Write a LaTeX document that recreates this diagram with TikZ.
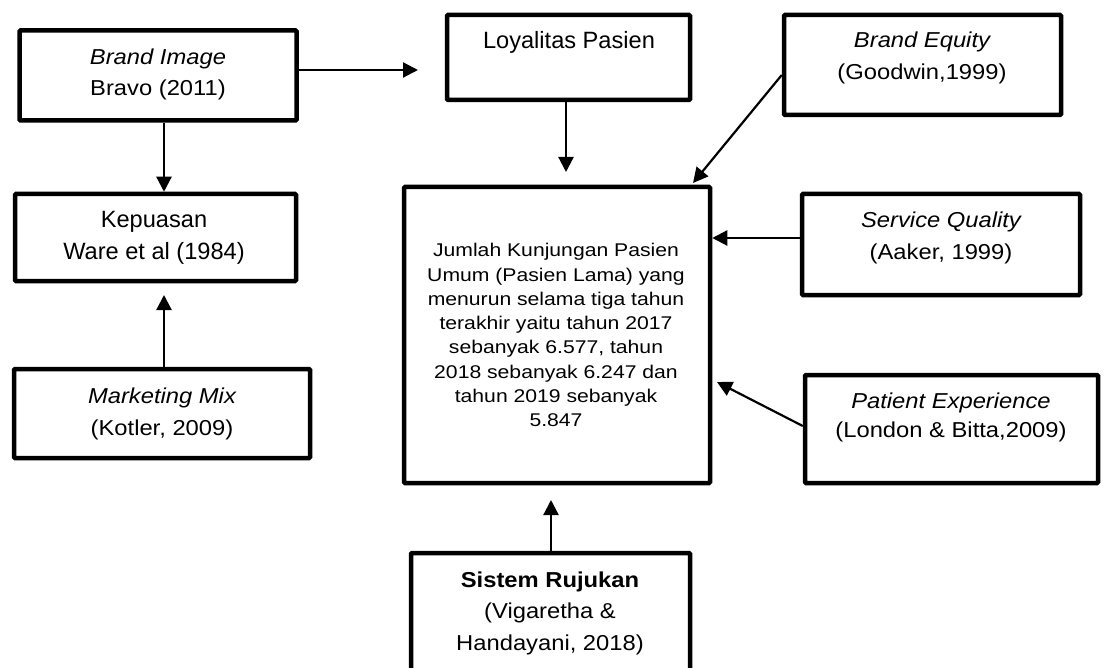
\documentclass[tikz,border=0pt]{standalone}
\usepackage{fontspec}
\setmainfont{Liberation Sans}
\newfontfamily\fontN{Liberation Sans}
\newfontfamily\fontM[FakeStretch=1.1]{Liberation Sans}
\newfontfamily\fontW[FakeStretch=1.15]{Liberation Sans}
\usetikzlibrary{arrows.meta}
\tikzset{
  box/.style={draw=black, line width=4.5pt, rounded corners=1pt, fill=white, inner sep=0pt},
  txtN/.style={anchor=base, inner sep=0pt, font=\fontN\fontsize{23.6}{31}\selectfont},
  txtM/.style={anchor=base, inner sep=0pt, font=\fontM\fontsize{21.6}{31}\selectfont},
  mtxt/.style={anchor=base, inner sep=0pt, font=\fontW\fontsize{18.4}{24}\selectfont},
  arr/.style={line width=2.2pt, -{Triangle[length=15pt,width=15pt]}}
}
\begin{document}
\begin{tikzpicture}[x=1pt,y=-1pt]
\useasboundingbox (0,0) rectangle (1105,668);
\fill[white] (0,0) rectangle (1105,668);
\clip (0,0) rectangle (1105,668);

% boxes
\node[box, minimum width=277pt, minimum height=90pt] (bi) at (158,75.5) {};
\node[box, minimum width=281pt, minimum height=87pt] (kep) at (155.5,237.5) {};
\node[box, minimum width=296pt, minimum height=89pt] (mm) at (162,413.5) {};
\node[box, minimum width=243pt, minimum height=85pt] (loy) at (568.5,57.5) {};
\node[box, minimum width=306pt, minimum height=296pt] (main) at (557,335) {};
\node[box, minimum width=277pt, minimum height=100pt] (be) at (922.5,65) {};
\node[box, minimum width=278pt, minimum height=101pt] (sq) at (941,244.5) {};
\node[box, minimum width=293pt, minimum height=108pt] (pe) at (951.5,429) {};
\node[box, minimum width=279pt, minimum height=125pt] (sis) at (550.5,615.5) {};

% texts
\node[txtM] (bi1) at (158,65) {\itshape Brand Image};
\node[txtM] (bi2) at (158,96) {Bravo (2011)};
\node[txtN] (loy1) at (569,49) {Loyalitas Pasien};
\node[txtN] (kep1) at (154,228) {Kepuasan};
\node[txtN] (kep2) at (154,260) {Ware et al (1984)};
\node[txtM] (mm1) at (162,403) {\itshape Marketing Mix};
\node[txtM] (mm2) at (162,435) {(Kotler, 2009)};
\node[txtM] (be1) at (922,48) {\itshape Brand Equity};
\node[txtM] (be2) at (922,80) {(Goodwin,1999)};
\node[txtM] (sq1) at (941,228) {\itshape Service Quality};
\node[txtM] (sq2) at (941,260) {(Aaker, 1999)};
\node[txtM] (pe1) at (951,408) {\itshape Patient Experience};
\node[txtM] (pe2) at (951,437) {(London \& Bitta,2009)};
\node[txtM] (sis1) at (550,587) {\bfseries Sistem Rujukan};
\node[txtM] (sis2) at (550,618) {(Vigaretha \&};
\node[txtM] (sis3) at (550,650) {Handayani, 2018)};

\node[mtxt] (m1) at (556,257) {Jumlah Kunjungan Pasien};
\node[mtxt] (m2) at (556,281.2) {Umum (Pasien Lama) yang};
\node[mtxt] (m3) at (556,305.4) {menurun selama tiga tahun};
\node[mtxt] (m4) at (556,329.6) {terakhir yaitu tahun 2017};
\node[mtxt] (m5) at (556,353.8) {sebanyak 6.577, tahun};
\node[mtxt] (m6) at (556,378) {2018 sebanyak 6.247 dan};
\node[mtxt] (m7) at (556,402.2) {tahun 2019 sebanyak};
\node[mtxt] (m8) at (556,426.4) {5.847};

% free arrow ends
\coordinate (tipLoy) at (418,70);
\coordinate (tipMM) at (164,295);
\coordinate (tipLoyDown) at (566,172);
\coordinate (tipBE) at (693,183);
\coordinate (tipPE) at (717,382);
\coordinate (tipSis) at (551,500);

% connectors
\draw[arr] ([yshift=5.5pt]bi.east) -- (tipLoy);
\draw[arr] ([xshift=6pt]bi.south) -- ([xshift=6pt]bi.south |- kep.north);
\draw[arr] (tipMM |- mm.north) -- (tipMM);
\draw[arr] (tipLoyDown |- loy.south) -- (tipLoyDown);
\draw[arr] ([yshift=-10pt]be.west) -- (tipBE);
\draw[arr] ([yshift=6.5pt]sq.west) -- ([yshift=6.5pt]sq.west -| main.east);
\draw[arr] ([yshift=3pt]pe.west) -- (tipPE);
\draw[arr] (tipSis |- sis.north) -- (tipSis);
\end{tikzpicture}
\end{document}
